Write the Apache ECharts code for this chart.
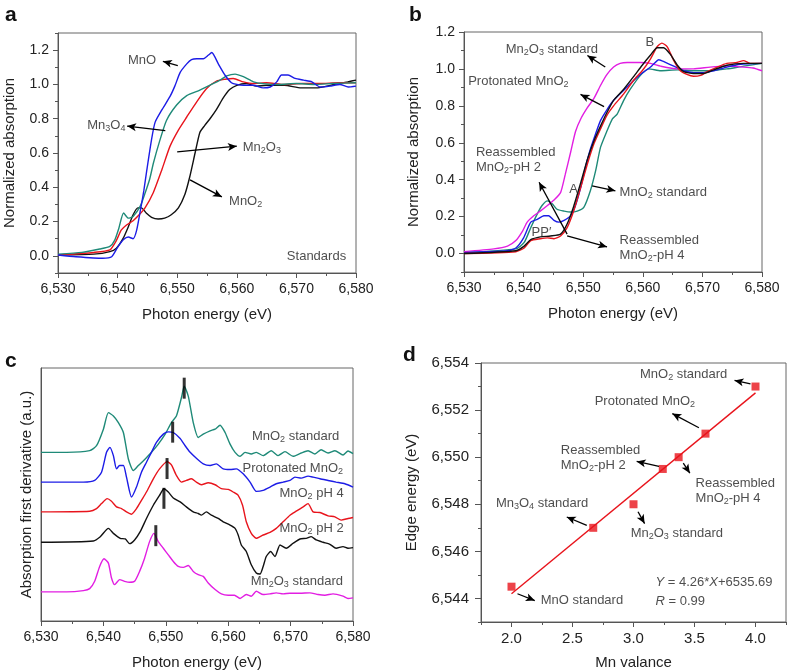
<!DOCTYPE html>
<html>
<head>
<meta charset="utf-8">
<script src="https://cdn.jsdelivr.net/npm/echarts@6/dist/echarts.min.js"></script>
<style>
  html, body { margin: 0; padding: 0; background: #fff; }
  #chart { width: 788px; height: 671px; }
</style>
</head>
<body>
<div id="chart"></div>
<script>
// ---- panel a: standards, normalized absorption [energy, value]
const aMnO = [[6530,0.005],[6533,-0.005],[6537.5,-0.014],[6539,-0.005],[6540,0.05],[6541,0.095],[6541.8,0.11],[6542.6,0.10],[6543.2,0.15],[6543.9,0.28],[6544.4,0.38],[6544.9,0.50],[6545.7,0.68],[6546.3,0.78],[6547.4,0.85],[6548.8,0.93],[6549.6,0.99],[6550.5,1.07],[6551.6,1.12],[6552.4,1.145],[6553.3,1.15],[6554.4,1.15],[6555.2,1.17],[6555.8,1.186],[6556.9,1.12],[6558,1.055],[6559.1,1.01],[6560,1.0],[6561.1,0.995],[6562.8,0.995],[6564.4,0.98],[6565.6,0.985],[6566.7,1.015],[6567.5,1.055],[6568.6,1.055],[6569.8,1.035],[6571.2,1.025],[6572.6,1.015],[6574,0.985],[6575.6,0.99],[6577.3,1.0],[6578.7,0.985],[6580,0.99]];
const aMn3O4 = [[6530,0.01],[6534,0.02],[6537,0.04],[6538.7,0.055],[6539.5,0.09],[6540.2,0.16],[6541,0.25],[6541.8,0.22],[6542.6,0.23],[6543.8,0.29],[6544.6,0.365],[6545.4,0.45],[6546,0.54],[6547.1,0.675],[6548.2,0.79],[6549.9,0.88],[6551.6,0.935],[6553.8,0.967],[6556.1,1.006],[6557.4,1.03],[6558.3,1.05],[6559.7,1.06],[6561.1,1.045],[6562.8,1.015],[6564.4,1.005],[6567,1.0],[6570,1.005],[6573,1.0],[6576,1.005],[6580,1.01]];
const aMn2O3 = [[6530,0.005],[6536,0.02],[6538.7,0.035],[6539.8,0.09],[6540.6,0.15],[6541.5,0.18],[6542.6,0.205],[6543.5,0.235],[6544.6,0.28],[6546,0.37],[6547.4,0.50],[6548.8,0.64],[6550.2,0.734],[6551.6,0.81],[6553.3,0.90],[6554.9,0.975],[6556.6,1.02],[6558,1.03],[6559.4,1.035],[6561.1,1.015],[6562.8,1.005],[6565,1.01],[6568,1.0],[6571,1.005],[6574,1.005],[6577,1.01],[6580,1.01]];
const aMnO2 = [[6530,0.005],[6536,0.01],[6538.7,0.025],[6539.8,0.045],[6540.9,0.10],[6541.8,0.17],[6542.6,0.24],[6543.4,0.28],[6544,0.28],[6544.8,0.25],[6545.7,0.225],[6546.8,0.215],[6547.9,0.22],[6549,0.24],[6550.2,0.28],[6551.3,0.36],[6552.1,0.46],[6553,0.60],[6553.8,0.72],[6554.6,0.76],[6555.5,0.80],[6556.6,0.855],[6557.7,0.92],[6558.8,0.97],[6560,0.995],[6561.6,1.005],[6563.3,0.99],[6565,0.995],[6568,0.995],[6570.8,0.98],[6573.6,0.98],[6576.4,1.0],[6578.6,1.015],[6580,1.025]];

// ---- panel b: samples
const bMn2O3 = [[6530,0.01],[6535,0.025],[6537.3,0.04],[6538.7,0.07],[6539.8,0.12],[6540.6,0.17],[6541.7,0.205],[6542.8,0.23],[6544,0.26],[6545.1,0.29],[6546.2,0.33],[6547,0.43],[6547.9,0.55],[6548.7,0.66],[6549.6,0.73],[6550.7,0.79],[6551.8,0.84],[6552.9,0.91],[6554,0.97],[6555.1,1.01],[6556.2,1.03],[6557.4,1.035],[6559.6,1.035],[6561.3,1.03],[6563,1.015],[6565.8,1.0],[6568.5,1.0],[6571.3,1.01],[6574.1,1.015],[6576.9,1.01],[6578.5,1.005],[6580,0.99]];
const bProt = [[6530,0.005],[6537.3,0.015],[6538.7,0.03],[6540,0.085],[6541.2,0.17],[6542.3,0.185],[6543.4,0.205],[6544.2,0.205],[6545.1,0.18],[6545.9,0.17],[6546.8,0.18],[6547.9,0.205],[6548.7,0.26],[6549.6,0.36],[6550.4,0.47],[6551.2,0.565],[6552.1,0.65],[6552.9,0.72],[6554,0.78],[6555.1,0.83],[6556.5,0.875],[6557.9,0.92],[6559.6,0.97],[6561.3,1.01],[6562.7,1.05],[6563.8,1.035],[6565.2,1.015],[6566.9,0.99],[6568.5,0.98],[6570.2,0.98],[6571.9,0.99],[6574.1,1.01],[6576.4,1.025],[6580,1.03]];
const bMnO2 = [[6530,0.005],[6538.7,0.025],[6540.1,0.06],[6541.2,0.14],[6542.3,0.215],[6543.1,0.26],[6544,0.285],[6544.8,0.27],[6545.6,0.24],[6546.8,0.23],[6547.9,0.225],[6549,0.23],[6550.1,0.25],[6551.2,0.34],[6552.1,0.45],[6552.9,0.575],[6554,0.665],[6554.9,0.73],[6555.7,0.755],[6556.8,0.83],[6557.9,0.89],[6559.6,0.965],[6561,1.0],[6563,0.99],[6565.8,0.995],[6568.5,0.99],[6571.3,0.99],[6574.1,1.0],[6576.9,1.015],[6580,1.03]];
const bPH4 = [[6530,0.0],[6538.7,0.01],[6540.1,0.03],[6541.2,0.07],[6542.8,0.08],[6544,0.085],[6545.1,0.08],[6546.2,0.095],[6547.3,0.14],[6548.4,0.23],[6549.6,0.36],[6550.7,0.485],[6551.8,0.595],[6552.9,0.675],[6554,0.75],[6555.1,0.80],[6556.8,0.865],[6558.5,0.94],[6559.9,0.99],[6561.3,1.055],[6562.4,1.12],[6563.2,1.14],[6564.1,1.12],[6565.2,1.045],[6566.3,0.99],[6567.4,0.97],[6568.5,0.96],[6569.7,0.965],[6570.8,0.985],[6572.5,1.01],[6574.1,1.03],[6575.8,1.035],[6576.9,1.045],[6578,1.03],[6580,1.03]];
const bPH2 = [[6530,0.0],[6538.7,0.015],[6540.1,0.04],[6541.2,0.075],[6542.8,0.09],[6544.5,0.095],[6546.2,0.105],[6547.3,0.16],[6548.4,0.255],[6549.6,0.385],[6550.7,0.51],[6551.8,0.61],[6552.9,0.69],[6554,0.765],[6555.1,0.83],[6556.8,0.89],[6558.5,0.96],[6559.9,1.02],[6561.3,1.075],[6562.4,1.115],[6563.5,1.115],[6564.6,1.08],[6565.8,1.02],[6566.9,0.985],[6568.5,0.975],[6570.2,0.975],[6571.9,0.995],[6574.1,1.02],[6576.9,1.03],[6580,1.03]];

// ---- panel c: first derivatives as plotted (offset, a.u.)
const cMnO2 = [[6530,5.10],[6534.1,5.10],[6537.8,5.15],[6538.9,5.30],[6540,5.80],[6540.8,6.30],[6541.6,6.20],[6542.4,6.00],[6543.2,5.70],[6544,4.90],[6544.8,4.55],[6545.6,4.70],[6546.7,4.90],[6547.7,5.10],[6548.8,5.35],[6549.9,5.65],[6550.9,6.00],[6551.7,6.20],[6552.5,6.75],[6552.95,7.10],[6553.6,6.80],[6554.4,6.00],[6555.2,5.55],[6556,5.65],[6557.1,5.75],[6557.9,5.80],[6558.7,5.92],[6559.5,5.70],[6560.3,5.35],[6561.1,5.10],[6561.9,4.98],[6562.7,5.10],[6563.7,5.05],[6564.5,5.10],[6565.6,5.00],[6566.9,5.15],[6568,5.00],[6569.1,5.12],[6570.4,4.98],[6571.7,5.08],[6572.8,5.15],[6573.9,5.05],[6574.9,5.18],[6576,5.08],[6577.1,5.15],[6578.4,5.02],[6579.2,5.14],[6580,5.06]];
const cProt = [[6530,4.20],[6536.8,4.20],[6538.6,4.25],[6539.7,4.50],[6540.5,5.10],[6541.05,5.25],[6541.6,5.00],[6542.1,4.60],[6542.6,4.70],[6543.2,4.70],[6543.7,4.35],[6544.5,3.75],[6545.3,4.05],[6546.1,4.50],[6546.9,4.80],[6547.7,5.10],[6548.5,5.40],[6549.6,5.65],[6550.4,5.72],[6551.2,5.70],[6552.3,5.52],[6553.1,5.30],[6553.9,5.10],[6554.9,4.92],[6556,4.75],[6557.1,4.70],[6558.1,4.75],[6559.2,4.60],[6560.3,4.58],[6561.3,4.60],[6562.4,4.45],[6563.5,4.20],[6564.5,3.92],[6565.6,3.95],[6566.7,4.05],[6567.7,4.15],[6568.8,4.20],[6569.9,4.25],[6570.7,4.35],[6571.7,4.32],[6572.8,4.38],[6573.6,4.35],[6574.7,4.30],[6576,4.25],[6577.3,4.20],[6578.7,4.15],[6580,4.05]];
const cPH4 = [[6530,3.30],[6537.8,3.32],[6538.9,3.40],[6539.7,3.55],[6540.6,3.70],[6541.3,3.62],[6542.1,3.45],[6542.9,3.40],[6543.7,3.30],[6544.5,3.23],[6545.3,3.40],[6546.1,3.65],[6546.9,3.90],[6548,4.30],[6549,4.60],[6550.2,4.82],[6550.9,4.72],[6551.7,4.40],[6552.5,4.20],[6553.3,4.25],[6554.1,4.30],[6554.9,4.20],[6555.7,4.12],[6556.8,4.18],[6557.9,4.12],[6558.9,4.00],[6560,3.98],[6560.8,3.90],[6561.6,3.80],[6562.3,3.50],[6562.9,3.00],[6563.7,2.65],[6564.5,2.50],[6565.6,2.60],[6566.7,2.68],[6567.7,2.80],[6568.8,3.00],[6569.9,3.20],[6570.9,3.32],[6572,3.45],[6572.8,3.55],[6573.6,3.30],[6574.7,3.28],[6576,3.18],[6577.1,3.15],[6578.1,3.05],[6579.2,3.10],[6580,3.13]];
const cPH2 = [[6530,2.38],[6538.4,2.42],[6539.5,2.55],[6540.8,2.80],[6541.6,2.65],[6542.7,2.50],[6543.5,2.48],[6544.2,2.34],[6545,2.45],[6545.9,2.70],[6546.9,3.10],[6548,3.50],[6549,3.80],[6549.7,4.00],[6550.4,3.90],[6551.2,3.72],[6552.3,3.60],[6553.3,3.45],[6554.4,3.30],[6555.2,3.25],[6555.7,3.20],[6556.5,3.30],[6557.3,3.20],[6558.4,3.10],[6559.2,3.00],[6560.3,2.90],[6561.1,2.80],[6561.6,2.60],[6562.1,2.30],[6562.9,2.10],[6563.7,1.70],[6564.5,1.45],[6565.1,1.42],[6565.6,1.65],[6566.1,1.95],[6566.8,2.10],[6567.5,1.95],[6568.3,2.30],[6569.3,2.20],[6570.4,2.35],[6571.5,2.48],[6572.5,2.50],[6573.3,2.55],[6574.1,2.45],[6575.2,2.38],[6576.3,2.32],[6577.3,2.20],[6578.4,2.25],[6579.2,2.20],[6580,2.22]];
const cMn2O3 = [[6530,0.88],[6534.1,0.88],[6536.8,0.92],[6537.8,0.98],[6538.6,1.20],[6539.4,1.65],[6540.1,1.88],[6540.8,1.75],[6541.3,1.30],[6541.8,1.10],[6542.6,1.25],[6543.4,1.20],[6544.2,1.17],[6545,1.20],[6545.8,1.50],[6546.6,1.90],[6547.4,2.40],[6548.1,2.65],[6548.8,2.40],[6549.6,2.20],[6550.4,2.00],[6551.2,1.80],[6552,1.65],[6552.8,1.62],[6553.6,1.68],[6554.4,1.50],[6555.2,1.40],[6556,1.35],[6556.8,1.15],[6557.9,0.95],[6558.9,0.82],[6560,0.78],[6561,0.78],[6561.9,0.68],[6562.9,0.80],[6563.7,0.75],[6564.5,0.90],[6565.6,0.80],[6566.7,0.82],[6567.7,0.85],[6568.8,0.82],[6569.9,0.84],[6571.5,0.84],[6573.1,0.85],[6574.4,0.80],[6575.5,0.78],[6576.8,0.82],[6578.4,0.75],[6579.2,0.68],[6580,0.70]];
const cEdges = [[6552.95,7.04],[6551.1,5.71],[6550.2,4.61],[6549.7,3.71],[6548.4,2.58]];

// ---- panel d: edge energy vs Mn valence
const dValence = [2.0, 2.67, 3.0, 3.24, 3.37, 3.59, 4.0];
const dEdge = [6544.5, 6547.0, 6548.0, 6549.5, 6550.0, 6551.0, 6553.0];
const dFitX = [2.0, 4.0];
const dFitY = [6544.2, 6552.73];

// tick labels
const absTicks = [0, 0.2, 0.4, 0.6, 0.8, 1.0, 1.2];
const valenceTicks = [2.0, 2.5, 3.0, 3.5, 4.0];
const edgeTicks = [6544, 6546, 6548, 6550, 6552, 6554];

const BLUE = '#1c1ce6', TEAL = '#1f8a78', RED = '#e8141c', BLACK = '#111', MAGENTA = '#e21ee2';
const FONT = 'Liberation Sans, Arial, sans-serif';
const INK = '#222';

// "MnO_2" -> rich text with subscript
function rt(s) {
  return s.split('\n').map(line => '{t|' + line.replace(/_(\d)/g, '}{s|$1}{t|') + '}').join('\n');
}
const rich = {
  t: { fontSize: 13, color: INK, fontFamily: FONT, lineHeight: 15 },
  s: { fontSize: 9, color: INK, fontFamily: FONT, lineHeight: 8, verticalAlign: 'bottom' },
  i: { fontSize: 13, color: INK, fontFamily: FONT, lineHeight: 15, fontStyle: 'italic' }
};

// annotation texts: [x, y, text, anchor]
const aTexts = [[6541.75,1.14,'MnO','l'],[6534.9,0.76,'Mn_3O_4','l'],[6561.0,0.63,'Mn_2O_3','l'],[6558.7,0.315,'MnO_2','l'],[6568.4,-0.006,'Standards','l']];
const aArrows = [[6550.1,1.11,6547.6,1.135],[6548.0,0.73,6541.6,0.757],[6550.0,0.606,6560.0,0.64],[6552.15,0.443,6557.5,0.344]];
const bTexts = [[6537.0,1.104,'Mn_2O_3 standard','l'],[6530.7,0.93,'Protonated MnO_2','l'],[6561.2,1.146,'B','c'],[6532.0,0.509,'Reassembled\nMnO_2-pH 2','l'],[6548.4,0.35,'A','c'],[6556.1,0.331,'MnO_2 standard','l'],[6543.0,0.114,'PP\u2032','c'],[6556.1,0.029,'Reassembled\nMnO_2-pH 4','l']];
const bArrows = [[6553.7,1.01,6550.7,1.073],[6553.5,0.796,6549.55,0.862],[6547.3,0.105,6542.6,0.386],[6551.5,0.367,6555.4,0.34],[6547.3,0.096,6554.0,0.036]];
const cTexts = [[6577.8,5.58,'MnO_2 standard','r'],[6578.4,4.6,'Protonated MnO_2','r'],[6578.5,3.85,'MnO_2 pH 4','r'],[6578.5,2.8,'MnO_2 pH 2','r'],[6578.4,1.2,'Mn_2O_3 standard','r']];
const dTexts = [[3.053,6553.5,'MnO_2 standard','l'],[2.682,6552.35,'Protonated MnO_2','l'],[2.404,6549.98,'Reassembled\nMnO_2-pH 2','l'],[3.509,6548.58,'Reassembled\nMnO_2-pH 4','l'],[1.872,6548.03,'Mn_3O_4 standard','l'],[2.977,6546.75,'Mn_2O_3 standard','l'],[2.24,6543.91,'MnO standard','l']];
const dArrows = [[3.959,6553.11,3.828,6553.26],[3.536,6551.25,3.318,6551.85],[3.209,6549.61,3.026,6549.82],[3.408,6549.75,3.462,6549.32],[2.617,6547.1,2.453,6547.46],[3.037,6547.68,3.091,6547.18],[2.049,6544.2,2.191,6543.91]];
const dEquation = [[3.18,6544.67,'{i|Y}{t| = 4.26*}{i|X}{t|+6535.69}'],[3.18,6543.89,'{i|R}{t| = 0.99}']];

const axisCol = '#555';
function baseAxis(gi, labelSize) {
  return {
    type: 'value', gridIndex: gi, nameLocation: 'middle',
    nameTextStyle: { fontSize: 15, color: INK, fontFamily: FONT },
    axisLine: { show: true, onZero: false, lineStyle: { color: axisCol, width: 1 } },
    axisTick: { show: true, length: 5, lineStyle: { color: axisCol } },
    axisLabel: { fontSize: labelSize || 14, color: INK, fontFamily: FONT, margin: 9 },
    splitLine: { show: false }
  };
}
// overlay axis that only carries the short minor ticks
function minorAxis(gi, min, max, interval, len) {
  return {
    type: 'value', gridIndex: gi, min, max, interval, position: undefined,
    axisLine: { show: false }, axisLabel: { show: false }, splitLine: { show: false },
    axisTick: { show: true, length: len, lineStyle: { color: axisCol } }
  };
}
function energyAxis(gi) {
  const ax = baseAxis(gi);
  ax.min = 6530; ax.max = 6580; ax.interval = 10;
  ax.name = 'Photon energy (eV)'; ax.nameGap = 34;
  ax.minorTick = { show: true, splitNumber: 2, length: 3, lineStyle: { color: axisCol } };
  ax.axisLabel.formatter = v => v.toLocaleString('en-US');
  return ax;
}
function absAxis(gi, max, gap) {
  const ax = baseAxis(gi);
  ax.min = -0.1; ax.max = max; ax.interval = 0.1;
  ax.name = 'Normalized absorption'; ax.nameGap = gap;
  ax.axisTick.customValues = absTicks;
  ax.axisLabel.customValues = absTicks;
  ax.axisLabel.formatter = v => v.toFixed(1);
  return ax;
}

function line(name, data, color, gi) {
  return {
    name, type: 'line', data, xAxisIndex: gi, yAxisIndex: gi,
    showSymbol: false, smooth: 0.2, lineStyle: { color, width: 1.4 }, itemStyle: { color },
    silent: true, animation: false, z: 3
  };
}
function textItems(list) {
  return list.map(([x, y, s, anchor]) => ({
    value: [x, y],
    label: {
      show: true, formatter: rt(s), rich,
      position: anchor === 'l' ? 'right' : anchor === 'r' ? 'left' : 'inside',
      distance: 0, align: anchor === 'l' ? 'left' : anchor === 'r' ? 'right' : 'center'
    }
  }));
}
function arrowLines(list) {
  return list.map(([x1, y1, x2, y2]) => [{ coord: [x1, y1] }, { coord: [x2, y2] }]);
}
function notes(gi, texts, arrows, extra) {
  return {
    type: 'scatter', xAxisIndex: gi, yAxisIndex: gi, symbolSize: 0, silent: true, animation: false,
    data: (extra || []).concat(textItems(texts)), z: 5,
    markLine: arrows ? {
      silent: true, animation: false, symbol: ['none', 'arrow'], symbolSize: [6, 9],
      lineStyle: { color: '#000', width: 1.3, type: 'solid' },
      itemStyle: { color: '#000' }, label: { show: false },
      emphasis: { disabled: true }, data: arrowLines(arrows)
    } : undefined
  };
}

const cAxisY = baseAxis(2);
Object.assign(cAxisY, { min: 0, max: 7.65, name: 'Absorption first derivative (a.u.)', nameGap: 7 });
cAxisY.axisTick = { show: false };
cAxisY.axisLabel = { show: false };

const dAxisX = baseAxis(3, 15);
Object.assign(dAxisX, { min: 1.75, max: 4.25, interval: 0.25, name: 'Mn valance', nameGap: 33 });
dAxisX.axisTick.customValues = valenceTicks;
dAxisX.axisLabel.customValues = valenceTicks;
dAxisX.axisLabel.formatter = v => v.toFixed(1);

const dAxisY = baseAxis(3, 15);
Object.assign(dAxisY, { min: 6543, max: 6554, interval: 1, name: 'Edge energy (eV)', nameGap: 62 });
dAxisY.axisTick.length = 6;
dAxisY.axisTick.customValues = edgeTicks;
dAxisY.axisLabel.customValues = edgeTicks;
dAxisY.axisLabel.margin = 12;
dAxisY.axisLabel.formatter = v => v.toLocaleString('en-US');

const gridStyle = { show: true, borderColor: '#666', borderWidth: 1, backgroundColor: 'transparent', containLabel: false };
const panelLetter = (text, left, top) => ({ text, left, top, textStyle: { fontSize: 21, fontWeight: 'bold', color: '#111', fontFamily: FONT } });

const chart = echarts.init(document.getElementById('chart'), null, { renderer: 'canvas' });
chart.setOption({
  animation: false,
  textStyle: { fontFamily: FONT },
  title: [panelLetter('a', 0, 0), panelLetter('b', 404, 0), panelLetter('c', 0, 346), panelLetter('d', 398, 340)],
  grid: [
    Object.assign({ left: 58, top: 33, width: 298, height: 240 }, gridStyle),
    Object.assign({ left: 464, top: 32, width: 298, height: 240 }, gridStyle),
    Object.assign({ left: 41, top: 368, width: 312, height: 255 }, gridStyle),
    Object.assign({ left: 481, top: 363, width: 305, height: 259 }, gridStyle)
  ],
  xAxis: [energyAxis(0), energyAxis(1), energyAxis(2), dAxisX,
    Object.assign(minorAxis(3, 1.75, 4.25, 0.25, 3), { position: 'bottom' })],
  yAxis: [absAxis(0, 1.3, 41), absAxis(1, 1.2, 43), cAxisY, dAxisY,
    Object.assign(minorAxis(0, -0.1, 1.3, 0.1, 3), { position: 'left' }),
    Object.assign(minorAxis(1, -0.1, 1.2, 0.1, 3), { position: 'left' }),
    Object.assign(minorAxis(3, 6543, 6554, 1, 3), { position: 'left' })],
  series: [
    line('MnO2', aMnO2, BLACK, 0),
    line('Mn2O3', aMn2O3, RED, 0),
    line('Mn3O4', aMn3O4, TEAL, 0),
    line('MnO', aMnO, BLUE, 0),
    notes(0, aTexts, aArrows),

    line('MnO2 standard', bMnO2, TEAL, 1),
    line('Mn2O3 standard', bMn2O3, MAGENTA, 1),
    line('Protonated MnO2', bProt, BLUE, 1),
    line('Reassembled MnO2-pH 4', bPH4, RED, 1),
    line('Reassembled MnO2-pH 2', bPH2, BLACK, 1),
    notes(1, bTexts, bArrows),

    line('MnO2 standard', cMnO2, TEAL, 2),
    line('Protonated MnO2', cProt, BLUE, 2),
    line('MnO2 pH 4', cPH4, RED, 2),
    line('MnO2 pH 2', cPH2, BLACK, 2),
    line('Mn2O3 standard', cMn2O3, MAGENTA, 2),
    {
      type: 'scatter', xAxisIndex: 2, yAxisIndex: 2, data: cEdges, symbol: 'rect', symbolSize: [3, 21],
      itemStyle: { color: '#000' }, silent: true, animation: false, z: 6
    },
    notes(2, cTexts),

    {
      type: 'line', xAxisIndex: 3, yAxisIndex: 3, data: dFitX.map((x, i) => [x, dFitY[i]]),
      showSymbol: false, lineStyle: { color: RED, width: 1.4 }, silent: true, animation: false
    },
    {
      type: 'scatter', xAxisIndex: 3, yAxisIndex: 3, data: dValence.map((x, i) => [x, dEdge[i]]),
      symbol: 'rect', symbolSize: 8, itemStyle: { color: RED }, silent: true, animation: false, z: 4
    },
    notes(3, dTexts, dArrows, dEquation.map(([x, y, s]) => ({
      value: [x, y], label: { show: true, formatter: s, rich, position: 'right', distance: 0, align: 'left' }
    })))
  ]
});
</script>
</body>
</html>
